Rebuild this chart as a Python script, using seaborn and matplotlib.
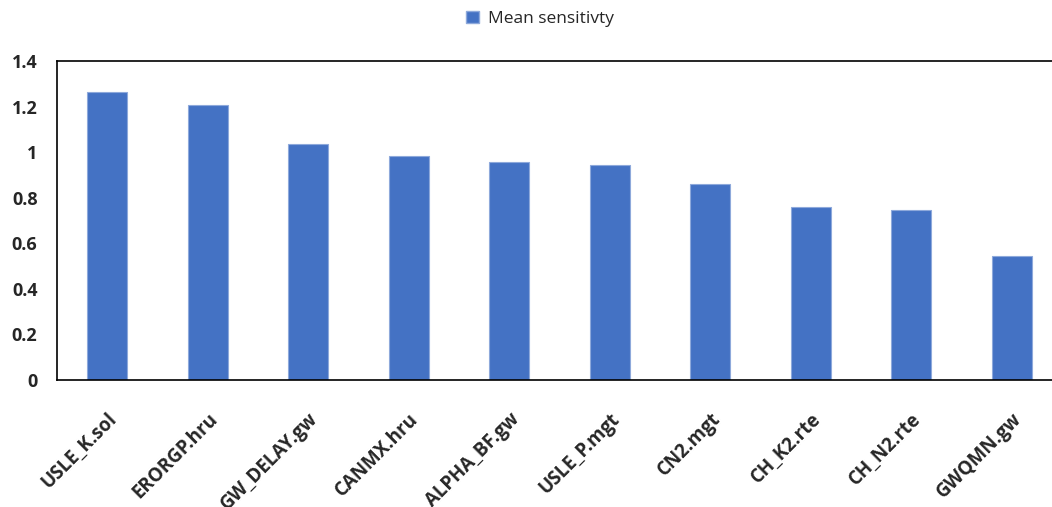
import matplotlib
matplotlib.use("Agg")
import matplotlib.pyplot as plt
from matplotlib.patches import Patch
from matplotlib.ticker import FixedLocator
import seaborn as sns
import pandas as pd

parameters = ["USLE_K.sol", "ERORGP.hru", "GW_DELAY.gw", "CANMX.hru", "ALPHA_BF.gw",
              "USLE_P.mgt", "CN2.mgt", "CH_K2.rte", "CH_N2.rte", "GWQMN.gw"]
mean_sensitivity = [1.265, 1.205, 1.035, 0.982, 0.955, 0.942, 0.86, 0.758, 0.745, 0.543]
y_ticks = [0, 0.2, 0.4, 0.6, 0.8, 1, 1.2, 1.4]
y_tick_labels = ["0", "0.2", "0.4", "0.6", "0.8", "1", "1.2", "1.4"]
legend_label = "Mean sensitivty"

bar_color = "#4472C4"

sns.set_style("white")
plt.rcParams["font.family"] = ["Open Sans", "DejaVu Sans"]

df = pd.DataFrame({"parameter": parameters, "value": mean_sensitivity})

fig = plt.figure(figsize=(10.52, 5.07), dpi=100)
ax = fig.add_axes([0.0542, 0.2505, 0.9553, 0.6292])

sns.barplot(data=df, x="parameter", y="value", color=bar_color, width=0.4,
            saturation=1, edgecolor="#8EA9DB", linewidth=0.8, ax=ax)

ax.set_xlim(-0.5, len(parameters) - 0.5)
ax.set_ylim(0, 1.4)
ax.set_xlabel("")
ax.set_ylabel("")

ax.set_yticks(y_ticks)
ax.set_yticklabels(y_tick_labels, fontsize=13, fontweight="bold")

# category labels at bar centres, ticks between categories
ax.set_xticks(range(len(parameters)))
ax.set_xticklabels(parameters, rotation=45, ha="right", va="top",
                   rotation_mode="anchor", fontsize=13.5, fontweight="bold")
ax.tick_params(axis="x", which="major", length=0, pad=21)
ax.xaxis.set_minor_locator(FixedLocator([i - 0.5 for i in range(len(parameters) + 1)]))
ax.tick_params(axis="x", which="minor", length=6, width=1, direction="out", color="black")
ax.tick_params(axis="y", which="major", length=5, width=1, direction="out", color="black", pad=9)

for side in ["left", "bottom", "top"]:
    ax.spines[side].set_visible(True)
    ax.spines[side].set_color("black")
    ax.spines[side].set_linewidth(1.2)
ax.spines["right"].set_visible(False)

handle = Patch(facecolor=bar_color, edgecolor="#8EA9DB", label=legend_label)
fig.legend(handles=[handle], loc="center", bbox_to_anchor=(0.513, 0.963),
           frameon=False, fontsize=12.5, handlelength=0.75, handleheight=0.75,
           handletextpad=0.5)

fig.savefig("out.png", dpi=100)
